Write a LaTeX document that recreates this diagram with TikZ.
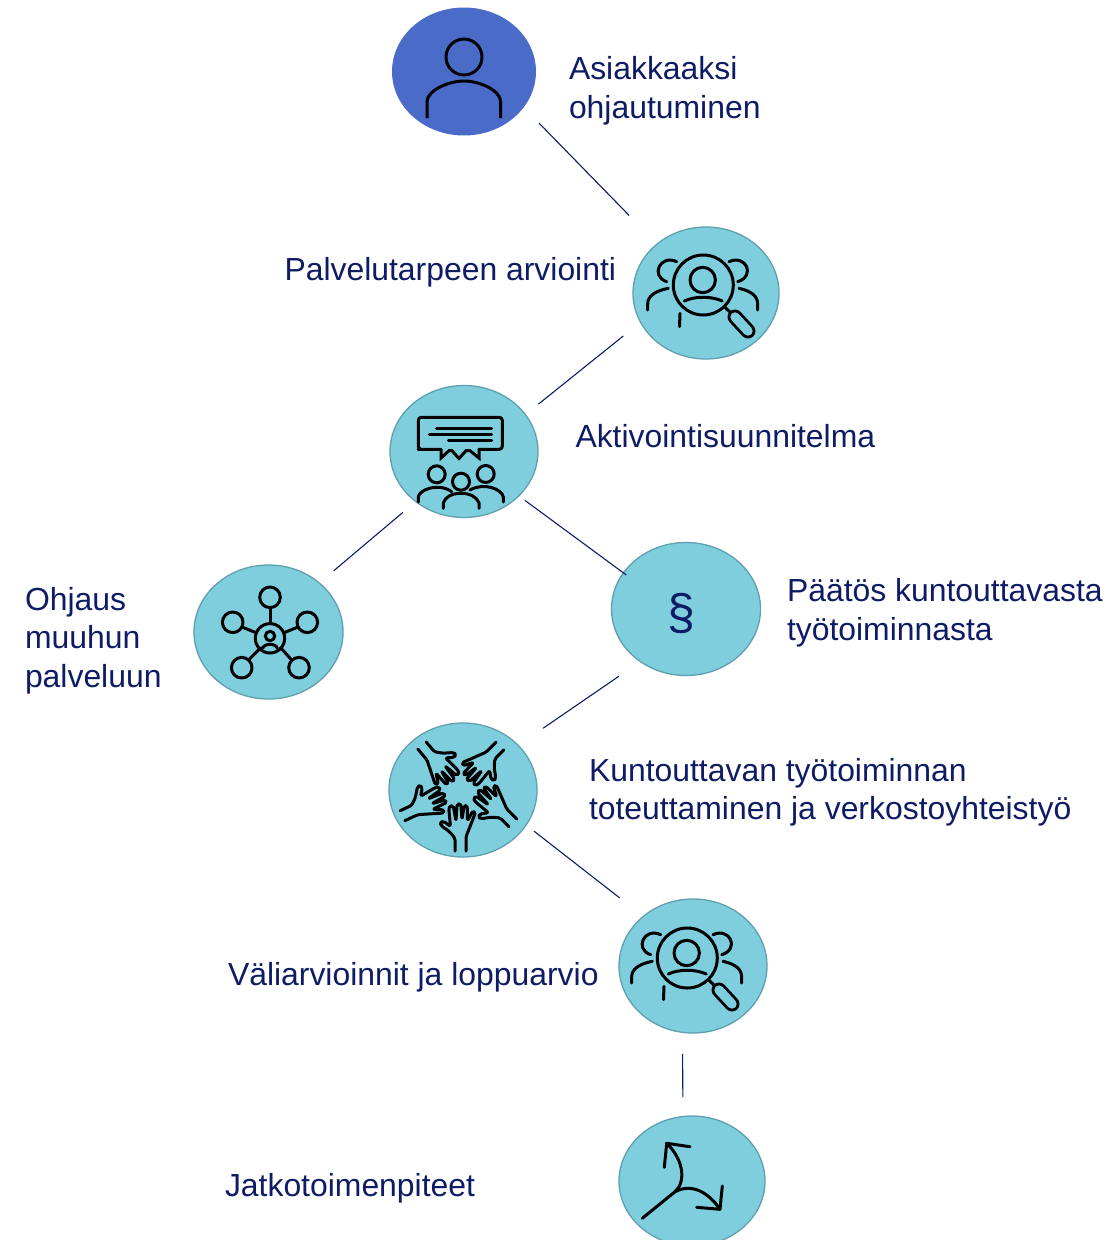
\documentclass[tikz,border=0pt]{standalone}
\usepackage{fontspec}
\setmainfont{Liberation Sans}
\usetikzlibrary{shapes.geometric}
\definecolor{navy}{HTML}{0E1C66}
\definecolor{tealfill}{HTML}{7FCEDD}
\definecolor{tealedge}{HTML}{5F9FAE}
\definecolor{bluefill}{HTML}{4A6CC8}
\tikzset{
  disc/.style={ellipse,inner sep=0pt,outer sep=0pt,fill=tealfill,draw=tealedge,line width=1.3pt},
  label/.style={anchor=base west,inner sep=0pt,outer sep=0pt,align=left,text=navy,font=\fontsize{31.9}{38.5}\selectfont},
  link/.style={draw=navy,line width=1.1pt},
  icon/.style={draw=black,line width=3pt,line cap=round,line join=round}
}
\newcommand{\magicon}{%
  \draw[icon] (703.3,285) circle (30);
  \draw[icon] (702.7,280) circle (12.7);
  \draw[icon] (684.3,301) .. controls (695,296) and (711,296) .. (722.3,301);
  \draw[icon] (676.7,261.7) .. controls (660,254) and (650,276) .. (666.7,281.7);
  \draw[icon] (668.3,288.3) .. controls (655,291) and (647.7,296) .. (647.7,304) -- (647.7,310);
  \draw[icon] (729,261.7) .. controls (746,254) and (756,276) .. (737.7,281.7);
  \draw[icon] (739,288.3) .. controls (751,291) and (757.7,296) .. (757.7,304) -- (757.7,310);
  \draw[icon] (680,313.3) -- (679.5,326.7);
  \draw[icon] (725,307.3) -- (730.5,312.5);
  \draw[draw=black,line width=15pt,line cap=round] (735,317) -- (748,331);
  \draw[draw=tealfill,line width=9.4pt,line cap=round] (735,317) -- (748,331);
}
\begin{document}
\begin{tikzpicture}[x=1pt,y=-1pt]
\clip (0,0) rectangle (1109,1240);
\fill[white] (0,0) rectangle (1109,1240);

% discs
\node[ellipse,inner sep=0pt,outer sep=0pt,fill=bluefill,minimum width=144pt,minimum height=128pt] (asiakas) at (464,71.5) {};
\node[disc,minimum width=146pt,minimum height=132pt] (arvio) at (706,293) {};
\node[disc,minimum width=148pt,minimum height=132pt] (suunnitelma) at (464,451.5) {};
\node[disc,minimum width=149pt,minimum height=134pt] (ohjaus) at (268.5,632) {};
\node[disc,minimum width=149pt,minimum height=133pt] (paatos) at (686,609) {};
\node[disc,minimum width=148pt,minimum height=134pt] (toteutus) at (463,790) {};
\node[disc,minimum width=148pt,minimum height=134pt] (valiarvio) at (693,966) {};
\node[disc,minimum width=146pt,minimum height=130pt] (jatko) at (692,1181) {};

% connectors
\draw[link,shorten <=22pt,shorten >=40pt] (asiakas.-31.5) -- (arvio.135);
\draw[link,shorten <=22pt,shorten >=16.7pt] (arvio.204.8) -- (suunnitelma.31.9);
\draw[link,shorten <=16.8pt,shorten >=19pt] (suunnitelma.226.3) -- (ohjaus.44.7);
\draw[link,shorten <=7.5pt,shorten >=-3.5pt] (suunnitelma.-39.7) -- (paatos.150.6);
\draw[link,shorten <=26pt,shorten >=30.2pt] (paatos.229.8) -- (toteutus.39.5);
\draw[link,shorten <=10pt,shorten >=30pt] (toteutus.-29.5) -- (valiarvio.135.4);
\draw[link,shorten <=21.6pt,shorten >=19.5pt] (valiarvio.261.4) -- (jatko.98);

% labels
\node[label] (t1) at (569,118) {Asiakkaaksi\\ohjautuminen};
\node[label] (t2) at (284.5,280.5) {Palvelutarpeen arviointi};
\node[label] (t3) at (575.5,447) {Aktivointisuunnitelma};
\node[label] (t4) at (25,687) {Ohjaus\\muuhun\\palveluun};
\node[label] (t5) at (787,640) {Päätös kuntouttavasta\\työtoiminnasta};
\node[label] (t6) at (589,819.5) {Kuntouttavan työtoiminnan\\toteuttaminen ja verkostoyhteistyö};
\node[label] (t7) at (228,985.5) {Väliarvioinnit ja loppuarvio};
\node[label] (t8) at (225,1196) {Jatkotoimenpiteet};

% person icon
\draw[icon] (464,57) circle (18);
\draw[icon,line cap=butt] (427,118) -- (427,101) .. controls (428,90) and (449,81) .. (464,81) .. controls (479,81) and (500,90) .. (500.5,101) -- (500.5,118);

% magnifier icons
\magicon
\begin{scope}[shift={(-16,673)}]\magicon\end{scope}

% meeting icon
\draw[icon,rounded corners=3pt] (441,449.3) -- (421,449.3) -- (418.3,449.3) -- (418.3,417.3) -- (502.3,417.3) -- (502.3,449.3) -- (479,449.3);
\draw[icon,line join=miter] (441,449.3) -- (441,458) -- (449,450.7) -- (452,450.7) -- (459,458.5) -- (466,450.7) -- (470,450.7) -- (479,458) -- (479,449.3);
\draw[icon] (436.7,428.3) -- (491.7,428.3);
\draw[icon] (429.3,434) -- (491.7,434);
\draw[icon] (448.3,440) -- (491.7,440);
\draw[icon] (436.7,474.3) circle (8.5);
\draw[icon] (461,481.7) circle (8.5);
\draw[icon] (485.7,474) circle (8.5);
\draw[icon] (418.3,502) -- (418.3,497) .. controls (419,490) and (438,482) .. (451.7,491.7);
\draw[icon] (443.3,508.3) -- (443.3,503) .. controls (445,497) and (452,493.3) .. (461,493.3) .. controls (470,493.3) and (477,497) .. (479,503) -- (479,508.3);
\draw[icon] (470,490) .. controls (484,482) and (502,489) .. (503.3,497) -- (503.3,502);

% network icon
\foreach \cx/\cy in {270/597.3,232.7/622.3,307.3/622.3,241.7/667.7,299/667.7}{
  \draw[icon] (\cx,\cy) circle (10.3);
}
\draw[icon] (270,638.3) circle (14.7);
\draw[icon] (270,636) circle (4.7);
\draw[icon] (262.7,648.3) .. controls (264,643) and (276,643) .. (277.3,648.3);
\draw[icon] (270,608) -- (270,623.5);
\draw[icon] (242.7,627.3) -- (256,632.7);
\draw[icon] (297.3,627.3) -- (284,632.7);
\draw[icon] (249.3,659.3) -- (260.7,647.7);
\draw[icon] (291,659.3) -- (280.7,647.7);

% hands icon
\foreach \tx/\ty/\ang in {460.5/851/0,513/823/45,402.5/815.7/-65,422/745.5/-140,500/746/135}{
  \begin{scope}[shift={(\tx,\ty)},rotate=\ang,shift={(-460.5,-851)}]
    \draw[icon,rounded corners=1.6pt] (455,851) -- (455,838.3) -- (449.5,831.7) -- (441,825.5) -- (440,822) -- (444,821.5) -- (450.5,826.5) -- (448.8,809) -- (450,805.5) -- (453.3,806) -- (456,821) -- (457,804.5) -- (460.7,803.5) -- (462,819.5) -- (464.2,805.5) -- (467.2,805.5) -- (467.5,821) -- (472.7,811) -- (475.5,812.5) -- (466,836.7) -- (466,851);
  \end{scope}
}

% paragraph sign
\node[inner sep=0pt,outer sep=0pt,text=navy,font=\fontsize{50}{54}\selectfont] (para) at (681,613) {§};

% arrows icon
\draw[icon] (642.3,1218.3) -- (675,1191.7);
\draw[icon] (675,1191.7) .. controls (686,1182) and (684,1160) .. (666.7,1143.3);
\draw[icon] (690,1146.7) -- (666.7,1143.3) -- (664.3,1167.3);
\draw[icon] (675,1191.7) .. controls (692,1183) and (708,1192) .. (720,1209.3);
\draw[icon] (696.7,1207.3) -- (720,1209.3) -- (722.3,1186);
\end{tikzpicture}
\end{document}
